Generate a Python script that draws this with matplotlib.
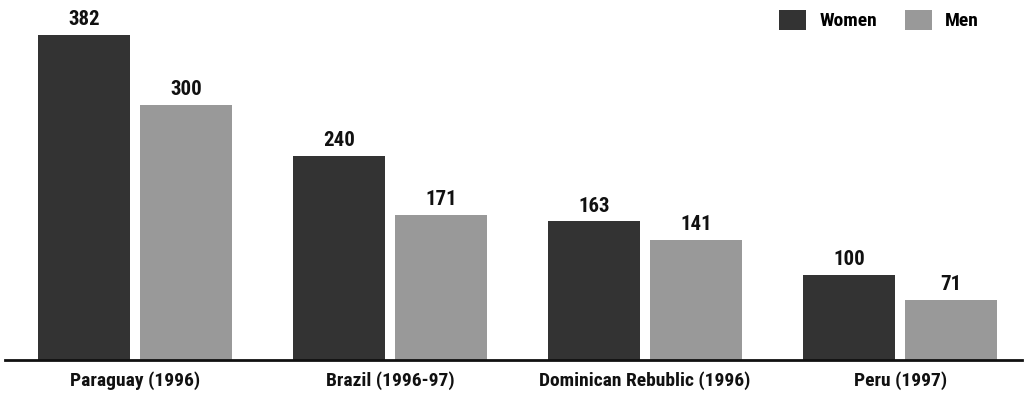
import matplotlib
matplotlib.use("Agg")
import matplotlib.pyplot as plt
from matplotlib import font_manager
import numpy as np

categories = ["Paraguay (1996)", "Brazil (1996-97)", "Dominican Rebublic (1996)", "Peru (1997)"]
women = [382, 240, 163, 100]
men = [300, 171, 141, 71]

def _w(f):
    try:
        return int(f.weight)
    except Exception:
        return {"bold": 700, "semibold": 600, "demibold": 600, "heavy": 800, "black": 900}.get(str(f.weight), 400)

pref = ["Roboto Condensed", "Liberation Sans Narrow", "Noto Sans Condensed", "Open Sans Condensed",
        "DejaVu Sans Condensed"]
entries = [f for f in font_manager.fontManager.ttflist
           if ("Condensed" in f.name or "Narrow" in f.name or "Cond" in f.name)
           and f.style == "normal" and _w(f) >= 600]
bold_names = {f.name for f in entries}
fam = None
for p in pref:
    if p in bold_names:
        fam = p
        break
if fam is None and bold_names:
    fam = sorted(bold_names)[0]
if fam is None:
    fam = "Roboto"
plt.rcParams['font.family'] = [fam, 'DejaVu Sans']
FS = 14
WT = "semibold"

W, H = 1027, 400
fig = plt.figure(figsize=(W/100, H/100), dpi=100)
ax = fig.add_axes([5/W, 40/H, 1017/W, 360/H])

x = np.arange(len(categories))
bw = 0.361
off = 0.2
c_w = "#333333"
c_m = "#999999"
b1 = ax.bar(x - off, women, bw, color=c_w, label="Women")
b2 = ax.bar(x + off, men, bw, color=c_m, label="Men")

for bars, vals in ((b1, women), (b2, men)):
    for r, v in zip(bars, vals):
        ax.annotate(str(v), (r.get_x() + r.get_width()/2, v), xytext=(0, 4),
                    textcoords="offset points", ha="center", va="bottom",
                    fontsize=FS + 1, fontweight=WT, color="#111111")

ax.set_xlim(-0.51, 3.478)
ax.set_ylim(0, 423.1)
ax.set_xticks(x)
ax.set_xticklabels(categories, fontsize=FS, fontweight=WT, color="#111111")
ax.tick_params(axis="x", length=0, pad=8)
ax.set_yticks([])
for s in ["top", "right", "left"]:
    ax.spines[s].set_visible(False)
ax.spines["bottom"].set_linewidth(2)
ax.spines["bottom"].set_color("#111111")

leg = ax.legend(loc="center right", bbox_to_anchor=(979/W, 1 - 20/H), bbox_transform=fig.transFigure,
                ncol=2, frameon=False, borderpad=0, borderaxespad=0,
                handlelength=1.39, handleheight=1.24, handletextpad=0.67, columnspacing=1.44,
                prop={"size": FS, "weight": WT})

fig.savefig("out.png", dpi=100)
